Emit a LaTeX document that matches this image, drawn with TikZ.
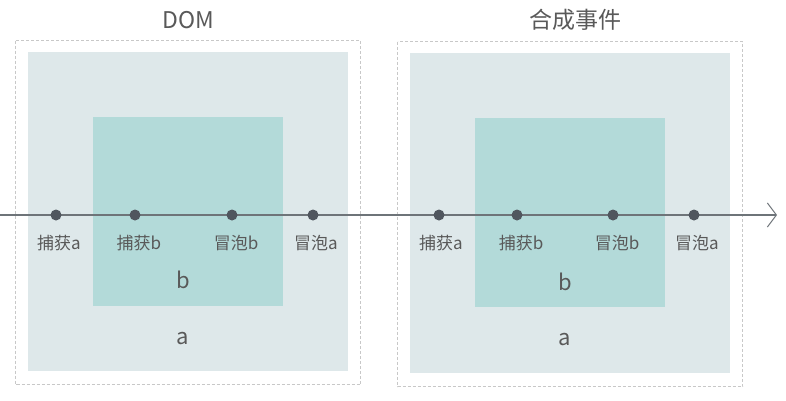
\documentclass[tikz,border=0pt]{standalone}
\usepackage{fontspec}
\setmainfont{Noto Sans CJK SC}
\usetikzlibrary{arrows.meta}
\definecolor{outerfill}{HTML}{DEE8EA}
\definecolor{innerfill}{HTML}{B3DAD9}
\definecolor{dashgray}{HTML}{C8C8C8}
\definecolor{linegray}{HTML}{6E7479}
\definecolor{dotgray}{HTML}{50565E}
\definecolor{textgray}{HTML}{595959}
\tikzset{
  frame/.style={draw=dashgray, dash pattern=on 3pt off 2pt, line width=0.8pt},
  outerbox/.style={fill=outerfill, draw=none},
  innerbox/.style={fill=innerfill, draw=none},
  evdot/.style={circle, fill=dotgray, inner sep=0pt, minimum size=11pt},
  evlabel/.style={text=textgray, font=\fontsize{17}{20}\selectfont, inner sep=0pt},
  title/.style={text=textgray, font=\fontsize{23}{27}\selectfont, inner sep=0pt},
  boxlabel/.style={text=textgray, font=\fontsize{22}{26}\selectfont, inner sep=0pt},
}
\begin{document}
\begin{tikzpicture}[x=1pt,y=-1pt]
\useasboundingbox (0,0) rectangle (786,400);
% left panel
\draw[frame] (15.5,40.5) rectangle (360.5,384.5);
\fill[outerbox] (28,52) rectangle (348,371);
\fill[innerbox] (93,117) rectangle (283,306);
% right panel
\draw[frame] (397.5,41.5) rectangle (742.5,386.5);
\fill[outerbox] (410,53) rectangle (730,373);
\fill[innerbox] (475,118) rectangle (665,307);
% titles
\node[title] (t1) at (188,20) {DOM};
\node[title] (t2) at (575,20) {合成事件};
% box labels
\node[boxlabel] (lb) at (183,280) {b};
\node[boxlabel] (la) at (183,339) {a};
\node[boxlabel] (rb) at (565,282) {b};
\node[boxlabel] (ra) at (565,340) {a};
% timeline
\coordinate (start) at (0,215);
\coordinate (end) at (777,215);
\draw[linegray, line width=1.2pt, -{Straight Barb[length=9pt, width=24pt, line width=1pt]}] (start) -- (end);
% dots
\node[evdot] (d1) at (56,215) {};
\node[evdot] (d2) at (135,215) {};
\node[evdot] (d3) at (232,215) {};
\node[evdot] (d4) at (313,215) {};
\node[evdot] (d5) at (439,215) {};
\node[evdot] (d6) at (517,215) {};
\node[evdot] (d7) at (613,215) {};
\node[evdot] (d8) at (694,215) {};
% labels
\node[evlabel] (l1) at (59,243) {捕获a};
\node[evlabel] (l2) at (139,243) {捕获b};
\node[evlabel] (l3) at (236,243) {冒泡b};
\node[evlabel] (l4) at (316,243) {冒泡a};
\node[evlabel] (l5) at (441,243) {捕获a};
\node[evlabel] (l6) at (521,243) {捕获b};
\node[evlabel] (l7) at (617,243) {冒泡b};
\node[evlabel] (l8) at (697,243) {冒泡a};
\end{tikzpicture}
\end{document}
